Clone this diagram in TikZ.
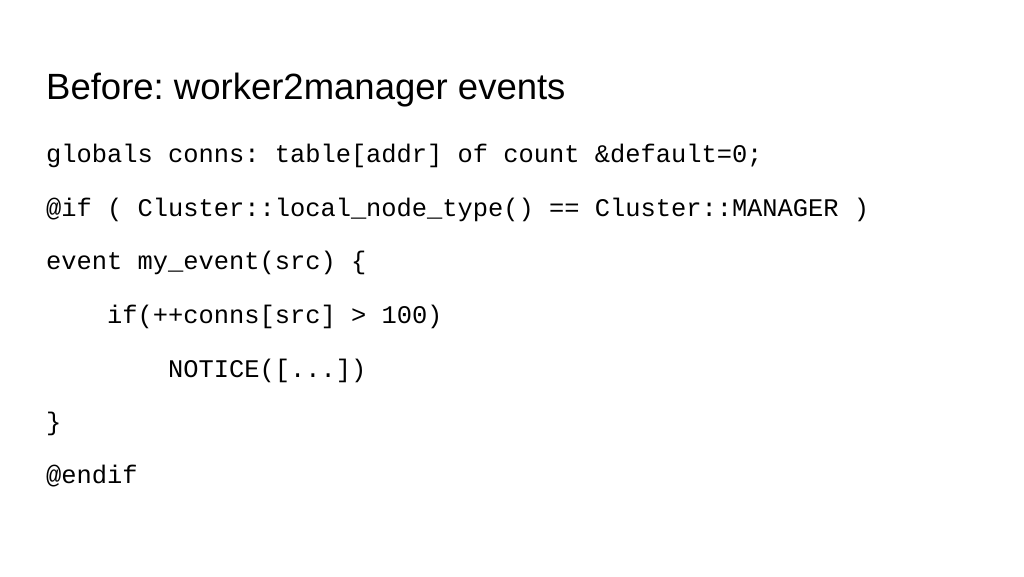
\documentclass[tikz,border=0pt]{standalone}
\usepackage{fontspec}
\setmainfont{Liberation Sans}
\newfontfamily\codefont{Liberation Mono}
\frenchspacing
\begin{document}
\begin{tikzpicture}[x=1pt,y=-1pt,
  code/.style={anchor=base west,inner sep=0pt,font=\codefont\fontsize{25.4}{30}\selectfont},
  ttl/.style={anchor=base west,inner sep=0pt,font=\fontsize{36.5}{42}\selectfont}]
\useasboundingbox[fill=white] (0,0) rectangle (1024,576);
\node[ttl] (t) at (46,99) {Before: worker2manager events};
\node[code] (l1) at (46,162) {globals conns: table[addr] of count \&default=0;};
\node[code] (l2) at (46,216) {@if ( Cluster::local\_node\_type() == Cluster::MANAGER )};
\node[code] (l3) at (46,269) {event my\_event(src) \{};
\node[code] (l4) at (107,323) {if(++conns[src] > 100)};
\node[code] (l5) at (168,377) {NOTICE([...])};
\node[code] (l6) at (46,430) {\}};
\node[code] (l7) at (46,483) {@endif};
\end{tikzpicture}
\end{document}
